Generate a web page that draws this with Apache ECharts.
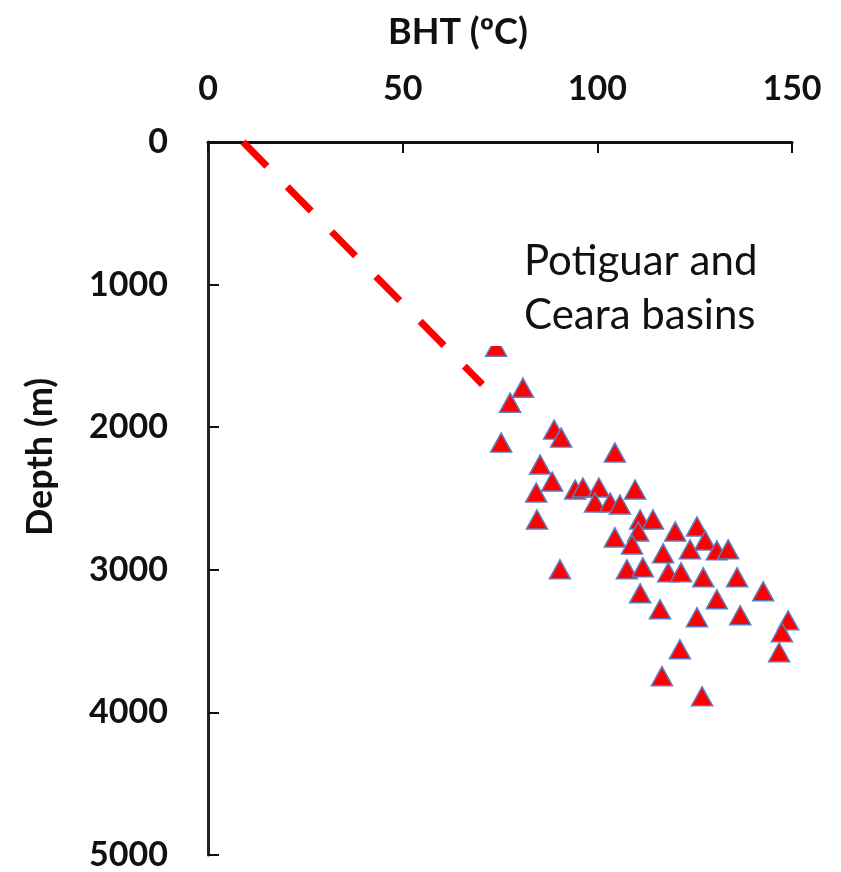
<!DOCTYPE html>
<html>
<head>
<meta charset="utf-8">
<script src="https://cdn.jsdelivr.net/npm/echarts@6/dist/echarts.min.js"></script>
<style>
  html, body { margin: 0; padding: 0; background: #fff; }
  #chart { width: 841px; height: 872px; }
</style>
</head>
<body>
<div id="chart"></div>
<script>
// BHT readings (°C) and depths (m)
const bhtTemps = [
  74.0, 80.9, 77.6, 75.3, 88.9, 90.7, 104.5, 85.3, 88.4, 84.3,
  94.3, 96.3, 100.4, 99.4, 103.3, 105.8, 109.7, 84.5, 111.0, 114.3,
  110.5, 104.5, 108.9, 120.0, 125.6, 127.7, 123.8, 116.9, 130.7, 133.6,
  90.4, 107.6, 111.7, 118.2, 121.5, 127.2, 135.9, 142.6, 111.0, 130.7,
  116.1, 125.6, 136.7, 149.0, 147.4, 146.7, 121.2, 116.6, 126.9
];
const depths = [
  1436, 1723, 1828, 2108, 2017, 2073, 2178, 2262, 2381, 2458,
  2437, 2423, 2423, 2528, 2528, 2542, 2437, 2647, 2647, 2647,
  2731, 2773, 2822, 2731, 2696, 2794, 2857, 2885, 2864, 2857,
  2997, 2997, 2983, 3018, 3018, 3053, 3053, 3151, 3165, 3207,
  3277, 3333, 3319, 3354, 3438, 3578, 3557, 3746, 3887
];

// dashed gradient line (surface temp -> ~1700 m)
const gradientTemps = [9, 70.5];
const gradientDepths = [0, 1700];

const xTicks = [0, 50, 100, 150];
const yTicks = [0, 1000, 2000, 3000, 4000, 5000];

const FONT = 'Lato';

const chart = echarts.init(document.getElementById('chart'));

chart.setOption({
  backgroundColor: '#fff',
  animation: false,
  grid: { left: 208, top: 142, right: 49, bottom: 16 },
  xAxis: {
    type: 'value',
    position: 'top',
    min: xTicks[0],
    max: xTicks[xTicks.length - 1],
    interval: xTicks[1] - xTicks[0],
    axisLine: { show: true, lineStyle: { color: '#111', width: 3 } },
    axisTick: { show: true, inside: true, length: 11, lineStyle: { color: '#111', width: 2 } },
    axisLabel: { margin: 36, fontFamily: FONT, fontSize: 34, fontWeight: 'bold', color: '#111' },
    splitLine: { show: false }
  },
  yAxis: {
    type: 'value',
    inverse: true,
    min: yTicks[0],
    max: yTicks[yTicks.length - 1],
    interval: yTicks[1] - yTicks[0],
    axisLine: { show: true, lineStyle: { color: '#222', width: 3 } },
    axisTick: { show: true, inside: true, length: 11, lineStyle: { color: '#111', width: 2 } },
    axisLabel: {
      margin: 40, fontFamily: FONT, fontSize: 34, fontWeight: 'bold', color: '#111',
      formatter: v => String(v)
    },
    splitLine: { show: false }
  },
  series: [
    {
      name: 'gradient',
      type: 'line',
      data: gradientTemps.map((t, i) => [t, gradientDepths[i]]),
      symbol: 'none',
      lineStyle: { color: '#ff0000', width: 7, type: [34, 29], cap: 'butt' },
      z: 2
    },
    {
      name: 'BHT',
      type: 'scatter',
      data: bhtTemps.map((t, i) => [t, depths[i]]),
      symbol: 'triangle',
      symbolSize: [21, 19],
      itemStyle: { color: '#ff0000', borderColor: '#5b7dbf', borderWidth: 1.5, opacity: 1 },
      z: 3
    }
  ],
  graphic: [
    {
      type: 'text',
      left: 388, top: 14,
      style: { text: 'BHT (ºC)', fontFamily: FONT, fontSize: 36, fontWeight: 'bold', fill: '#111' }
    },
    {
      type: 'text',
      x: 40, y: 457,
      rotation: Math.PI / 2,
      style: {
        text: 'Depth (m)', fontFamily: FONT, fontSize: 36, fontWeight: 'bold', fill: '#111',
        align: 'center', verticalAlign: 'middle'
      }
    },
    {
      // label box sits over the plot (hides the top of one marker)
      type: 'rect',
      z: 100,
      shape: { x: 470, y: 226, width: 310, height: 120 },
      style: { fill: '#fff' }
    },
    {
      type: 'text',
      z: 101,
      left: 524, top: 234,
      style: {
        text: 'Potiguar and\nCeara basins', fontFamily: FONT, fontSize: 42,
        lineHeight: 54, fill: '#111'
      }
    }
  ]
});
</script>
</body>
</html>
